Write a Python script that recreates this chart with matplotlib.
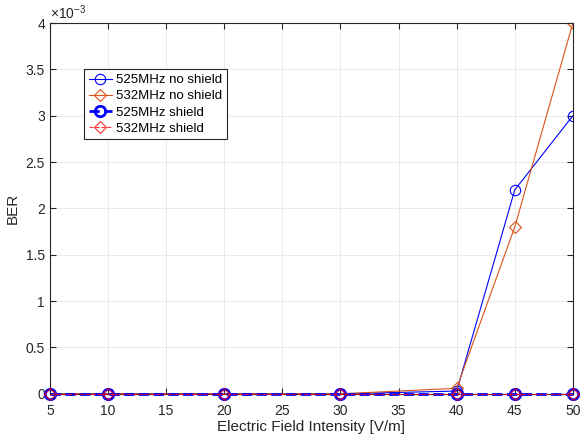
import matplotlib.pyplot as plt

plt.rcParams['font.family'] = ['Liberation Sans', 'DejaVu Sans']
plt.rcParams['mathtext.fontset'] = 'custom'
plt.rcParams['mathtext.rm'] = 'Liberation Sans'

# field intensity [V/m]
field = [5, 10, 20, 30, 40, 45, 50]

# bit error rate per configuration
ber_525_noshield = [0, 0, 0, 0, 0.00003, 0.0022, 0.003]
ber_532_noshield = [0, 0, 0, 0, 0.00006, 0.0018, 0.004]
ber_525_shield = [0, 0, 0, 0, 0, 0, 0]
ber_532_shield = [0, 0, 0, 0, 0, 0, 0]

fig = plt.figure(figsize=(5.81, 4.44), dpi=100)
ax = fig.add_axes([0.086, 0.113, 0.9, 0.835])

ax.plot(field, ber_525_noshield, '-o', color='#0000ff', lw=0.8, ms=7.5,
        mfc='none', mew=0.8, label='525MHz no shield')
ax.plot(field, ber_532_noshield, '-D', color='#d95319', lw=0.8, ms=6.5,
        mfc='none', mew=0.8, label='532MHz no shield')
ax.plot(field, ber_525_shield, '--o', color='#0000ff', lw=2, ms=7.5,
        mfc='none', mew=2, label='525MHz shield', zorder=3, clip_on=False)
ax.plot(field, ber_532_shield, '--D', color='#ff0000', lw=0.8, ms=6.5,
        mfc='none', mew=0.8, label='532MHz shield', alpha=0.8, zorder=3,
        clip_on=False)

ax.set_xlim(5, 50)
ax.set_ylim(0, 0.004)
ax.set_xticks([5, 10, 15, 20, 25, 30, 35, 40, 45, 50])
ax.set_yticks([0, 0.0005, 0.001, 0.0015, 0.002, 0.0025, 0.003, 0.0035, 0.004])
ax.set_yticklabels(['0', '0.5', '1', '1.5', '2', '2.5', '3', '3.5', '4'])
ax.text(0.0, 1.003, r'$\times\mathregular{10^{-3}}$', transform=ax.transAxes,
        fontsize=10, color='#262626', va='bottom', ha='left')

ax.set_xlabel('Electric Field Intensity [V/m]', fontsize=11, color='#262626',
              labelpad=2)
ax.set_ylabel('BER', fontsize=11, color='#262626')
ax.tick_params(labelsize=10, colors='#262626', direction='in', length=4,
               top=True, right=True)
ax.tick_params(axis='x', pad=7)
ax.grid(True, color='#e6e6e6', lw=0.6)
for s in ax.spines.values():
    s.set_color('#262626')
    s.set_linewidth(0.8)

leg = ax.legend(loc='upper left', bbox_to_anchor=(0.065, 0.875), fontsize=9.5,
                fancybox=False, edgecolor='#262626', framealpha=1,
                handlelength=1.8, borderpad=0.35, labelspacing=0.3,
                handletextpad=0.3, borderaxespad=0)
leg.get_frame().set_linewidth(0.8)
leg.set_zorder(5)

fig.savefig('out.png', dpi=100)
